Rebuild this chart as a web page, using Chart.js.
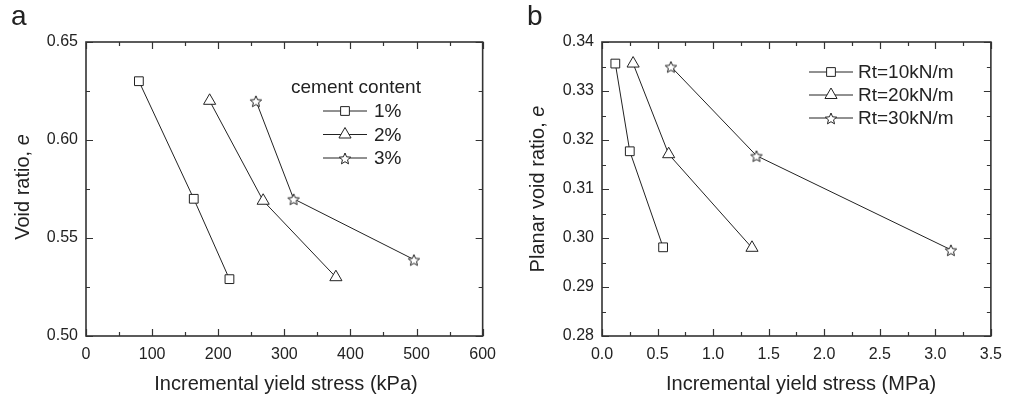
<!DOCTYPE html>
<html>
<head>
<meta charset="utf-8">
<script src="https://cdn.jsdelivr.net/npm/chart.js@4.4.0/dist/chart.umd.min.js"></script>
<style>
body{margin:0;width:1011px;height:396px;position:relative;background:#fff;overflow:hidden;
  font-family:"Liberation Sans",Arial,sans-serif;color:#222}
canvas{position:absolute;top:0}
.tag{position:absolute;font-size:28px;line-height:1}
.ytitle{position:absolute;transform:translate(-50%,-50%) rotate(-90deg);white-space:nowrap;font-size:20px}
.xtitle{position:absolute;transform:translate(-50%,-50%);white-space:nowrap;font-size:20px}
</style>
</head>
<body>
<canvas id="chartA" width="505" height="396" style="left:0"></canvas>
<canvas id="chartB" width="506" height="396" style="left:505px"></canvas>
<div class="tag" style="left:11px;top:2px">a</div>
<div class="tag" style="left:527px;top:2px">b</div>
<div class="ytitle" style="left:22px;top:187px">Void ratio, <i>e</i></div>
<div class="ytitle" style="left:537px;top:189px">Planar void ratio, <i>e</i></div>
<div class="xtitle" style="left:286px;top:383px">Incremental yield stress (kPa)</div>
<div class="xtitle" style="left:801px;top:383px">Incremental yield stress (MPa)</div>
<script>
// ---------- data ----------
// panel a : cement content
const cementLabels = ["1%", "2%", "3%"];
const stressA1 = [80, 163, 217];
const voidA1   = [0.630, 0.570, 0.529];
const stressA2 = [187, 268, 378];
const voidA2   = [0.620, 0.569, 0.530];
const stressA3 = [257, 314, 496];
const voidA3   = [0.620, 0.570, 0.539];

// panel b : reinforcement strength
const rtLabels = ["Rt=10kN/m", "Rt=20kN/m", "Rt=30kN/m"];
const stressB1 = [0.12, 0.25, 0.55];
const voidB1   = [0.3356, 0.3177, 0.2981];
const stressB2 = [0.28, 0.60, 1.35];
const voidB2   = [0.3356, 0.3171, 0.2980];
const stressB3 = [0.62, 1.39, 3.14];
const voidB3   = [0.3350, 0.3168, 0.2976];

// tick values
const xMajorA = [0, 100, 200, 300, 400, 500, 600];
const xMinorA = [50, 150, 250, 350, 450, 550];
const yMajorA = [0.50, 0.55, 0.60, 0.65];
const yMinorA = [0.525, 0.575, 0.625];
const xMajorB = [0, 0.5, 1.0, 1.5, 2.0, 2.5, 3.0, 3.5];
const xMinorB = [0.25, 0.75, 1.25, 1.75, 2.25, 2.75, 3.25];
const yMajorB = [0.28, 0.29, 0.30, 0.31, 0.32, 0.33, 0.34];
const yMinorB = [0.285, 0.295, 0.305, 0.315, 0.325, 0.335];

const ink = "#222";
const tickFont = {family: "'Liberation Sans', Arial, sans-serif", size: 16};

// hollow five point star, used as a point style
function makeStar(r){
    let c = document.createElement("canvas");
    let s = Math.ceil(r * 2 + 4);
    c.width = s; c.height = s;
    let g = c.getContext("2d");
    g.beginPath();
    for(let i = 0; i < 10; i++){
        let rr = i % 2 ? r * 0.45 : r;
        let ang = -Math.PI / 2 + i * Math.PI / 5;
        g.lineTo(s / 2 + rr * Math.cos(ang), s / 2 + 1 + rr * Math.sin(ang));
    }
    g.closePath();
    g.fillStyle = "#fff"; g.fill();
    g.strokeStyle = ink; g.lineWidth = 1; g.stroke();
    return c;
}
const starImg = makeStar(6);

function zip(xs, ys){
    return xs.map((x, i) => ({x: x, y: ys[i]}));
}

function makeSet(label, xs, ys, style, radius){
    return {
        label: label,
        data: zip(xs, ys),
        borderColor: ink,
        borderWidth: 1,
        pointStyle: style,
        pointRadius: radius,
        pointBorderColor: ink,
        pointBackgroundColor: "#fff",
        pointBorderWidth: 1,
        tension: 0,
        fill: false
    };
}

// frame, inward ticks on all sides, legend with line + marker
const frameTicks = {
    id: "frameTicks",
    afterDraw(chart, args, opts){
        const ctx = chart.ctx;
        const a = chart.chartArea;
        const x = chart.scales.x, y = chart.scales.y;
        ctx.save();
        ctx.strokeStyle = "#333";
        ctx.lineWidth = 1.2;
        const xTicks = (vals, len) => vals.forEach(v => {
            let px = Math.round(x.getPixelForValue(v)) + 0.5;
            ctx.beginPath();
            ctx.moveTo(px, a.bottom); ctx.lineTo(px, a.bottom - len);
            ctx.moveTo(px, a.top); ctx.lineTo(px, a.top + len);
            ctx.stroke();
        });
        const yTicks = (vals, len) => vals.forEach(v => {
            let py = Math.round(y.getPixelForValue(v)) + 0.5;
            ctx.beginPath();
            ctx.moveTo(a.left, py); ctx.lineTo(a.left + len, py);
            ctx.moveTo(a.right, py); ctx.lineTo(a.right - len, py);
            ctx.stroke();
        });
        xTicks(opts.xMajor, 7); xTicks(opts.xMinor, 4);
        yTicks(opts.yMajor, 7); yTicks(opts.yMinor, 4);
        ctx.lineWidth = 1.6;
        ctx.strokeRect(a.left, a.top, a.right - a.left, a.bottom - a.top);

        // legend
        const lg = opts.legend;
        ctx.font = "19px 'Liberation Sans', Arial, sans-serif";
        ctx.fillStyle = ink;
        ctx.textBaseline = "middle";
        if(lg.title){
            ctx.fillText(lg.title, lg.titleX, lg.titleY);
        }
        chart.data.datasets.forEach((ds, i) => {
            let cy = lg.y0 + i * lg.dy;
            ctx.strokeStyle = ink; ctx.lineWidth = 1;
            ctx.beginPath();
            ctx.moveTo(lg.x - 22, cy); ctx.lineTo(lg.x + 22, cy);
            ctx.stroke();
            ctx.fillStyle = "#fff";
            Chart.helpers.drawPoint(ctx, {
                pointStyle: ds.pointStyle, radius: ds.pointRadius,
                rotation: 0, borderWidth: 1
            }, lg.x, cy);
            ctx.fillStyle = ink;
            ctx.fillText(ds.label, lg.x + lg.gap, cy + 1);
        });
        ctx.restore();
    }
};

function buildOptions(cfg){
    return {
        responsive: false,
        animation: false,
        layout: {padding: {top: 42, right: cfg.padRight, left: 0, bottom: 0}},
        plugins: {
            legend: {display: false},
            tooltip: {enabled: false},
            frameTicks: cfg.frame
        },
        scales: {
            x: {
                type: "linear", min: cfg.xMin, max: cfg.xMax,
                ticks: {stepSize: cfg.xStep, padding: 9, color: ink, font: tickFont,
                        callback: v => v.toFixed(cfg.xDec)},
                grid: {display: false, drawTicks: false},
                border: {display: false},
                afterFit(s){ s.height = 60; }
            },
            y: {
                type: "linear", min: cfg.yMin, max: cfg.yMax,
                ticks: {stepSize: cfg.yStep, padding: 8, color: ink, font: tickFont,
                        callback: v => v.toFixed(2)},
                grid: {display: false, drawTicks: false},
                border: {display: false},
                afterFit(s){ s.width = cfg.yWidth; }
            }
        }
    };
}

new Chart(document.getElementById("chartA"), {
    type: "line",
    data: {datasets: [
        makeSet(cementLabels[0], stressA1, voidA1, "rect", 6.2),
        makeSet(cementLabels[1], stressA2, voidA2, "triangle", 7),
        makeSet(cementLabels[2], stressA3, voidA3, starImg, 6)
    ]},
    options: buildOptions({
        padRight: 22, yWidth: 86,
        xMin: 0, xMax: 600, xStep: 100, xDec: 0,
        yMin: 0.50, yMax: 0.65, yStep: 0.05,
        frame: {xMajor: xMajorA, xMinor: xMinorA, yMajor: yMajorA, yMinor: yMinorA,
                legend: {title: "cement content", titleX: 291, titleY: 88,
                         x: 345, y0: 111, dy: 23.5, gap: 29}}
    }),
    plugins: [frameTicks]
});

new Chart(document.getElementById("chartB"), {
    type: "line",
    data: {datasets: [
        makeSet(rtLabels[0], stressB1, voidB1, "rect", 6.2),
        makeSet(rtLabels[1], stressB2, voidB2, "triangle", 7),
        makeSet(rtLabels[2], stressB3, voidB3, starImg, 6)
    ]},
    options: buildOptions({
        padRight: 13, yWidth: 97,
        xMin: 0, xMax: 3.5, xStep: 0.5, xDec: 1,
        yMin: 0.28, yMax: 0.34, yStep: 0.01,
        frame: {xMajor: xMajorB, xMinor: xMinorB, yMajor: yMajorB, yMinor: yMinorB,
                legend: {title: "", x: 326, y0: 72, dy: 23, gap: 27}}
    }),
    plugins: [frameTicks]
});
</script>
</body>
</html>
